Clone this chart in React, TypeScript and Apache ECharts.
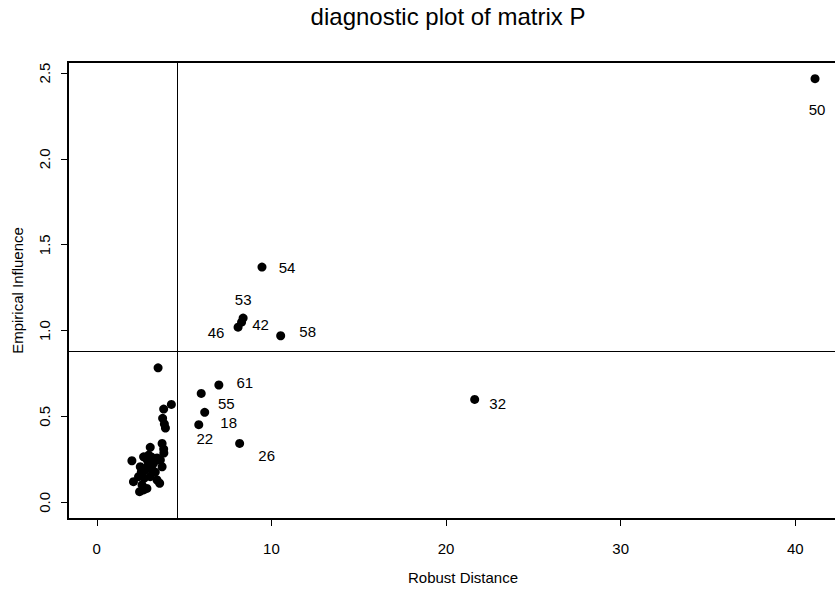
import React, { useEffect, useRef } from "react";
import * as echarts from "echarts";

// Labelled observations (id, robust distance, empirical influence)
const labelIds = ["50", "54", "53", "42", "46", "58", "61", "55", "18", "22", "26", "32"];
const labelDist = [41.13, 9.46, 8.38, 8.29, 8.09, 10.53, 6.99, 5.98, 6.18, 5.84, 8.18, 21.64];
const labelInfl = [2.467, 1.37, 1.073, 1.049, 1.02, 0.97, 0.683, 0.634, 0.524, 0.452, 0.343, 0.599];

// Unlabelled observations
const otherDist = [
  3.51, 4.27, 3.83, 3.77, 3.87, 3.93, 3.74, 3.83, 3.84, 3.06, 2.01, 2.68, 2.97, 3.25, 3.45,
  2.49, 2.78, 3.74, 2.1, 2.59, 2.68, 2.45, 3.45, 3.6, 3.06, 2.39, 2.87, 2.95, 3.18, 2.72,
  3.35, 2.89, 2.55, 3.64, 3.12,
];
const otherInfl = [
  0.783, 0.57, 0.543, 0.489, 0.456, 0.432, 0.343, 0.31, 0.287, 0.32, 0.242, 0.265, 0.275, 0.227, 0.258,
  0.207, 0.188, 0.207, 0.12, 0.101, 0.072, 0.062, 0.13, 0.111, 0.149, 0.149, 0.081, 0.217, 0.188, 0.141,
  0.176, 0.246, 0.176, 0.246, 0.264,
];

// Cutoff lines
const cutDist = 4.6;
const cutInfl = 0.88;

const xTicks = [0, 10, 20, 30, 40];
const yTicks = [0, 0.5, 1, 1.5, 2, 2.5];

// label offsets (styling only)
const labelOffsets: Record<string, [number, number]> = {
  "50": [2, 31],
  "54": [25, 0],
  "53": [0, -19],
  "42": [19, 2],
  "46": [-22, 5],
  "58": [27, -4],
  "61": [26, -3],
  "55": [25, 10],
  "18": [24, 10],
  "22": [6, 14],
  "26": [27, 12],
  "32": [23, 4],
};

const FONT = "Liberation Sans, Arial, Helvetica, sans-serif";

export default function App() {
  const ref = useRef<HTMLDivElement>(null);
  useEffect(() => {
    if (!ref.current) return;
    const chart = echarts.init(ref.current, undefined, { renderer: "svg" });
    const gridLeft = 68;
    const gridTop = 62;
    const gridW = 790;
    const gridH = 457;
    const xMin = -1.649;
    const xMax = xMin + gridW / 17.4625;
    const yMin = -0.0972;
    const yMax = 2.564;

    const otherData = otherDist.map((x, i) => [x, otherInfl[i]]);
    const labData = labelIds.map((id, i) => ({
      value: [labelDist[i], labelInfl[i]],
      name: id,
      label: {
        show: true,
        formatter: id,
        position: "inside",
        offset: labelOffsets[id],
        color: "#000",
        fontSize: 15,
        fontFamily: FONT,
        align: "center",
        verticalAlign: "middle",
      },
    }));

    chart.setOption({
      animation: false,
      graphic: [
        {
          type: "text",
          x: 448,
          y: 16,
          style: {
            text: "diagnostic plot of matrix P",
            fill: "#000",
            fontSize: 24,
            fontFamily: FONT,
            align: "center",
            verticalAlign: "middle",
          },
        },
      ],
      grid: {
        left: gridLeft,
        top: gridTop,
        width: gridW,
        height: gridH,
        outerBoundsMode: "none",
        containLabel: false,
        show: true,
        borderColor: "#000",
        borderWidth: 2,
        backgroundColor: "transparent",
      },
      xAxis: {
        type: "value",
        min: xMin,
        max: xMax,
        name: "Robust Distance",
        nameLocation: "middle",
        nameGap: 51,
        nameTextStyle: { color: "#000", fontSize: 15, fontFamily: FONT },
        axisLine: { show: true, onZero: false, lineStyle: { color: "#000", width: 2 } },
        axisTick: { show: true, length: 7, customValues: xTicks, lineStyle: { color: "#000", width: 1 } },
        axisLabel: {
          customValues: xTicks,
          color: "#000",
          fontSize: 15,
          fontFamily: FONT,
          margin: 22,
        },
        splitLine: { show: false },
      },
      yAxis: {
        type: "value",
        min: yMin,
        max: yMax,
        name: "Empirical Influence",
        nameLocation: "middle",
        nameGap: 43,
        nameTextStyle: { color: "#000", fontSize: 15, fontFamily: FONT },
        axisLine: { show: true, onZero: false, lineStyle: { color: "#000", width: 2 } },
        axisTick: { show: true, length: 7, customValues: yTicks, lineStyle: { color: "#000", width: 1 } },
        axisLabel: {
          customValues: yTicks,
          rotate: 90,
          color: "#000",
          fontSize: 15,
          fontFamily: FONT,
          margin: 16,
          formatter: (v: number) => v.toFixed(1),
        },
        splitLine: { show: false },
      },
      series: [
        {
          type: "scatter",
          symbol: "circle",
          symbolSize: 9,
          itemStyle: { color: "#000", opacity: 1 },
          data: otherData,
          markLine: {
            silent: true,
            symbol: ["none", "none"],
            label: { show: false },
            lineStyle: { color: "#000", type: "solid", width: 1 },
            data: [{ xAxis: cutDist }, { yAxis: cutInfl }],
          },
        },
        {
          type: "scatter",
          symbol: "circle",
          symbolSize: 9,
          itemStyle: { color: "#000", opacity: 1 },
          data: labData,
        },
      ],
    });
    return () => chart.dispose();
  }, []);
  return <div ref={ref} style={{ width: 835, height: 594, position: "absolute", left: 0, top: 0 }} />;
}
